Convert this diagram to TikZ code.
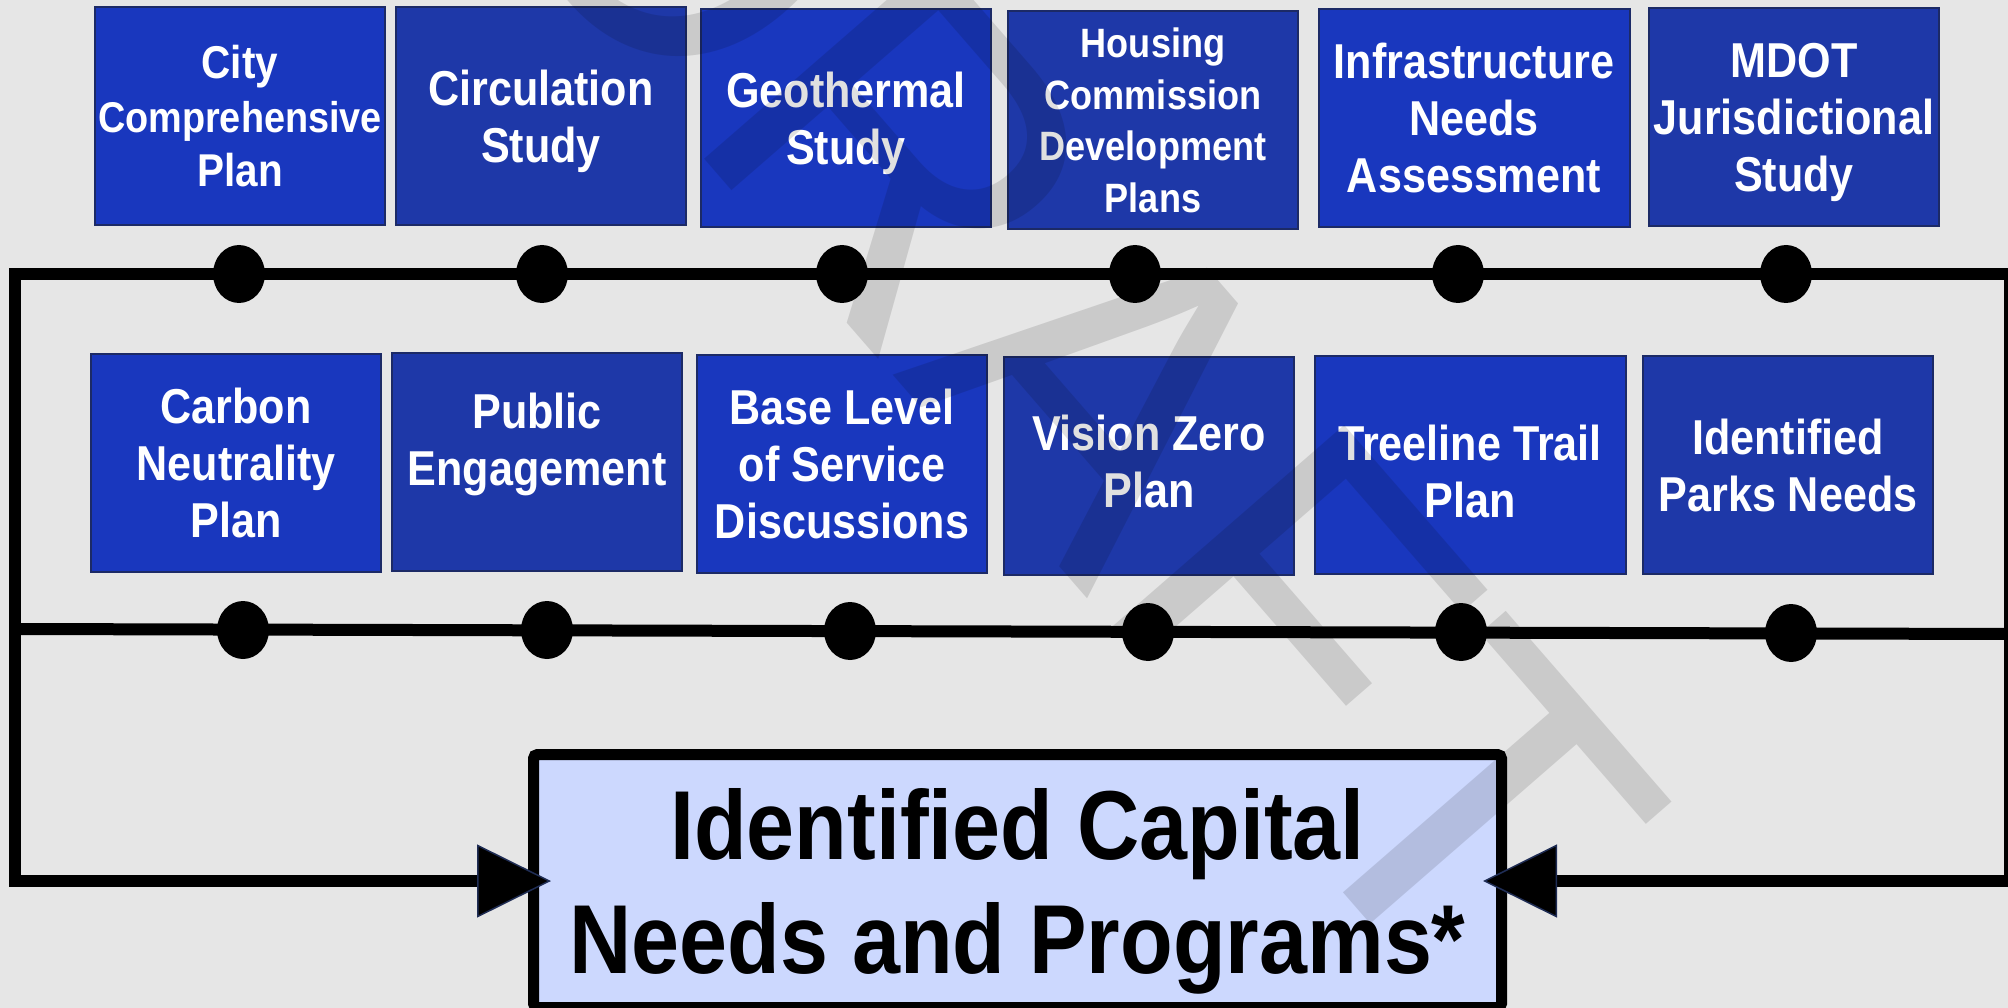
\documentclass[tikz,border=0pt]{standalone}
\usepackage{fontspec}
\newfontfamily\boxfont{Liberation Sans}[FakeStretch=0.88]
\newfontfamily\markfont{Liberation Sans}
\usetikzlibrary{shapes.geometric,arrows.meta}
\definecolor{bggrey}{HTML}{E6E6E6}
\definecolor{planblue}{HTML}{1937BE}
\definecolor{planblueb}{HTML}{1E38A8}
\definecolor{boxedge}{HTML}{1C2A66}
\definecolor{goalfill}{HTML}{CCD8FE}
\definecolor{tipedge}{HTML}{1F2D55}
\tikzset{
  planbox/.style={draw=boxedge, line width=2pt, fill=planblue, text=white,
    minimum width=290pt, minimum height=218pt, inner sep=0pt, align=center,
    text depth=0pt, font=\boxfont\bfseries\fontsize{49}{57}\selectfont},
  planboxb/.style={planbox, fill=planblueb},
  widebox/.style={minimum width=311pt},
  joint/.style={ellipse, fill=black, minimum width=52pt, minimum height=58pt, inner sep=0pt},
  flowline/.style={line width=12pt, black},
  goalbox/.style={draw=black, line width=11pt, fill=goalfill, rounded corners=4pt,
    minimum width=968pt, minimum height=253pt, inner sep=0pt, align=center,
    text depth=0pt, font=\boxfont\bfseries\fontsize{98}{114}\selectfont},
  intip/.style={-{Triangle[length=74pt, width=73pt, line width=1.5pt, color=tipedge, fill=black]}},
  watermark/.style={font=\markfont\fontsize{447}{447}\selectfont, text=black,
    text opacity=0.12, rotate=-49, inner sep=0pt}
}
\begin{document}
\begin{tikzpicture}[x=1pt,y=-1pt]
  \fill[bggrey] (0,0) rectangle (2008,1008);
  \useasboundingbox (0,0) rectangle (2008,1008);
  % studies and plans, first row
  \path
    (240,116) node[planbox, font=\boxfont\bfseries\fontsize{46}{54}\selectfont] (city)
      {City\\ \fontsize{43}{54}\selectfont Comprehensive\\Plan}
    (541,116) node[planboxb] (circ) {Circulation\\Study}
    (846,118) node[planbox] (geo) {Geothermal\\Study}
    (1153,120) node[planboxb, font=\boxfont\bfseries\fontsize{41}{51.5}\selectfont] (housing)
      {Housing\\Commission\\Development\\Plans}
    (1474,118) node[planbox, widebox] (infra) {Infrastructure\\Needs\\Assessment}
    (1794,117) node[planboxb] (mdot) {MDOT\\Jurisdictional\\Study};
  % second row
  \path
    (236,463) node[planbox] (carbon) {Carbon\\Neutrality\\Plan}
    (537,462) node[planboxb] (public) {Public\\Engagement\\[-11pt]\mbox{}}
    (842,464) node[planbox] (base) {Base Level\\of Service\\Discussions}
    (1149,466) node[planboxb, text depth=10pt] (vision) {Vision Zero\\Plan}
    (1470,465) node[planbox, widebox, text height=105pt] (treeline) {Treeline Trail\\Plan}
    (1788,465) node[planboxb] (parks) {Identified\\Parks Needs};
  % joints on the two lines
  \path
    (239,274) node[joint] (d1) {}
    (542,274) node[joint] (d2) {}
    (842,274) node[joint] (d3) {}
    (1135,274) node[joint] (d4) {}
    (1458,274) node[joint] (d5) {}
    (1786,274) node[joint] (d6) {}
    (243,630) node[joint] (d7) {}
    (547,630) node[joint] (d8) {}
    (850,631) node[joint] (d9) {}
    (1148,632) node[joint] (d10) {}
    (1461,632) node[joint] (d11) {}
    (1791,633) node[joint] (d12) {};
  \node[goalbox] (goal) at (1017.5,881) {Identified Capital\\Needs and Programs*};
  \coordinate (tl) at (15,274);
  \coordinate (tr) at (2010,274);
  \coordinate (ml) at (15,629);
  \coordinate (mr) at (2010,634);
  \coordinate (bl) at (15,881);
  \coordinate (br) at (2010,881);
  \begin{scope}[flowline]
    \draw (ml) -- (mr);
    \draw[intip, shorten >=-23pt] (tr) -- (tl) -- (bl) -- (goal.west);
    \draw[intip, shorten >=-24pt] (tr) -- (br) -- (goal.east);
  \end{scope}
  \node[watermark] (draft) at (1074,349) {DRAFT};
\end{tikzpicture}
\end{document}
